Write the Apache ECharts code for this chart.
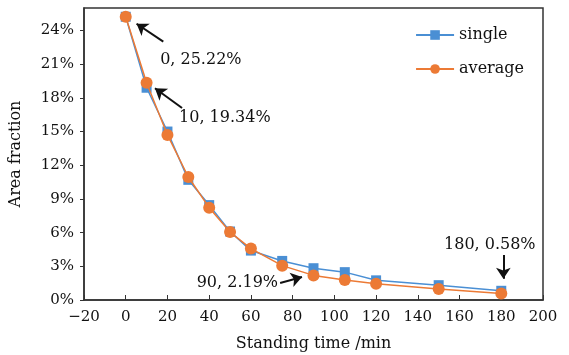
<!DOCTYPE html>
<html>
<head>
<meta charset="utf-8">
<script src="https://cdn.jsdelivr.net/npm/echarts@6/dist/echarts.min.js"></script>
<style>
  html, body { margin: 0; padding: 0; background: #fff; }
  #chart { width: 569px; height: 355px; }
</style>
</head>
<body>
<div id="chart"></div>
<script>
// standing time (min)
var times = [0, 10, 20, 30, 40, 50, 60, 75, 90, 105, 120, 150, 180];
// area fraction (%)
var singleVals = [25.22, 18.9, 15.0, 10.7, 8.45, 6.1, 4.4, 3.48, 2.83, 2.48, 1.75, 1.32, 0.82];
var averageVals = [25.22, 19.34, 14.7, 10.95, 8.22, 6.05, 4.58, 3.06, 2.19, 1.78, 1.44, 0.97, 0.58];
var xTicks = [-20, 0, 20, 40, 60, 80, 100, 120, 140, 160, 180, 200];

// callouts: label text, where the text sits, arrow tail and arrow head (data units)
var callouts = [
  { text: '0, 25.22%', textAt: [36, 21.4], from: [18, 23.0], to: [5.2, 24.6] },
  { text: '10, 19.34%', textAt: [47.5, 16.2], from: [27, 17.1], to: [14, 18.85] },
  { text: '90, 2.19%', textAt: [53.5, 1.55], from: [74, 1.52], to: [84.5, 2.05] },
  { text: '180, 0.58%', textAt: [174.5, 4.9], from: [181, 4.0], to: [181, 1.9] }
];

var FONT = 'DejaVu Serif';

function pairs(vals) {
  return times.map(function (t, i) { return [t, vals[i]]; });
}

var chart = echarts.init(document.getElementById('chart'));

var option = {
  animation: false,
  textStyle: { fontFamily: FONT, color: '#111' },
  grid: {
    left: 84, right: 26, top: 8, bottom: 55,
    outerBoundsMode: 'none',
    containLabel: false,
    show: true, borderColor: '#333', borderWidth: 1.5
  },
  legend: {
    orient: 'vertical',
    right: 40, top: 22,
    itemGap: 18,
    itemWidth: 38, itemHeight: 12,
    textStyle: { fontFamily: FONT, fontSize: 16, color: '#111' },
    data: ['single', 'average']
  },
  xAxis: {
    type: 'value',
    min: -20, max: 200, interval: 20,
    name: 'Standing time /min',
    nameLocation: 'middle',
    nameGap: 36,
    nameTextStyle: { fontFamily: FONT, fontSize: 16, color: '#111' },
    axisLine: { onZero: false, lineStyle: { color: '#333', width: 1.5 } },
    axisTick: { inside: true, length: 5, lineStyle: { color: '#333' } },
    axisLabel: {
      fontFamily: FONT, fontSize: 15, color: '#111', margin: 10,
      formatter: function (v) { return xTicks.indexOf(v) >= 0 ? String(v).replace('-', '\u2212') : ''; }
    },
    splitLine: { show: false }
  },
  yAxis: {
    type: 'value',
    min: 0, max: 26, interval: 3,
    name: 'Area fraction',
    nameLocation: 'middle',
    nameGap: 60,
    nameTextStyle: { fontFamily: FONT, fontSize: 16, color: '#111' },
    axisLine: { show: true, onZero: false, lineStyle: { color: '#333', width: 1.5 } },
    axisTick: { show: true, length: 4, lineStyle: { color: '#333' } },
    axisLabel: {
      fontFamily: FONT, fontSize: 15, color: '#111', margin: 10,
      showMaxLabel: false,
      formatter: function (v) { return v + '%'; }
    },
    splitLine: { show: false }
  },
  series: [
    {
      name: 'single',
      type: 'line',
      data: pairs(singleVals),
      symbol: 'rect',
      symbolSize: 10,
      lineStyle: { color: '#4a8fd4', width: 1.5 },
      itemStyle: { color: '#4a8fd4' },
      z: 2
    },
    {
      name: 'average',
      type: 'line',
      data: pairs(averageVals),
      symbol: 'circle',
      symbolSize: 12,
      lineStyle: { color: '#ec7a35', width: 1.5 },
      itemStyle: { color: '#ec7a35' },
      z: 3,
      markLine: {
        silent: true,
        symbol: ['none', 'arrow'],
        symbolSize: 11,
        lineStyle: { color: '#111', width: 2, type: 'solid' },
        label: { show: false },
        data: callouts.map(function (c) {
          return [{ coord: c.from }, { coord: c.to }];
        })
      },
      markPoint: {
        silent: true,
        symbol: 'circle',
        symbolSize: 1,
        itemStyle: { color: 'rgba(0,0,0,0)' },
        label: {
          show: true, position: 'inside', fontFamily: FONT, fontSize: 16, color: '#111',
          formatter: function (p) { return p.name; }
        },
        data: callouts.map(function (c) {
          return { name: c.text, coord: c.textAt };
        })
      }
    }
  ]
};

chart.setOption(option);
window.onresize = chart.resize;
</script>
</body>
</html>
